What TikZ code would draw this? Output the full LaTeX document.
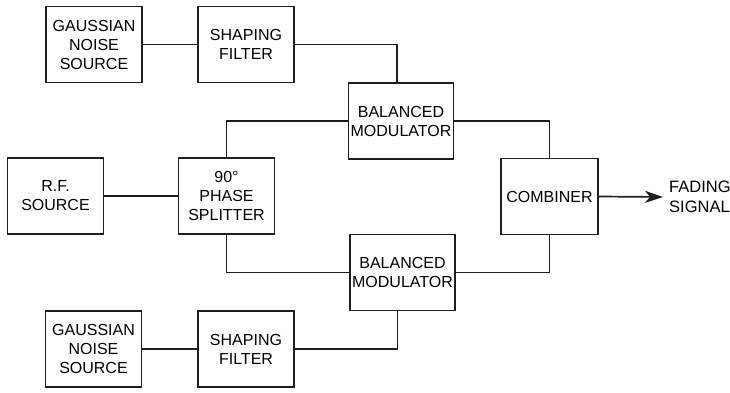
\documentclass[tikz,border=0pt]{standalone}
\usepackage{fontspec}
\setmainfont{Liberation Sans}
\usepackage{tikz}
\usetikzlibrary{arrows.meta,positioning,calc}
\definecolor{mInk}{RGB}{30,30,30}

\begin{document}
\begin{tikzpicture}[x=1pt,y=-1pt,
  blk/.style={draw=mInk,line width=1.7pt,minimum width=96pt,minimum height=76pt,align=center,inner sep=2pt,font=\fontsize{16}{19}\selectfont},
  wire/.style={draw=mInk,line width=1.7pt}]
\useasboundingbox (0,0) rectangle (730,393);
\node[blk] (gtop) at (94,44.5) {GAUSSIAN\\NOISE\\SOURCE};
\node[blk] (stop) at (246,44.5) {SHAPING\\FILTER};
\node[blk,minimum width=103pt] (bmtop) at (401,121) {BALANCED\\MODULATOR};
\node[blk] (rf) at (55.5,196) {R.F.\\SOURCE};
\node[blk] (ps) at (226.5,196) {90°\\PHASE\\SPLITTER};
\node[blk,minimum width=97pt] (comb) at (549.5,196.5) {COMBINER};
\node[blk,minimum width=105pt] (bmbot) at (402.5,272.5) {BALANCED\\MODULATOR};
\node[blk] (gbot) at (93.5,349) {GAUSSIAN\\NOISE\\SOURCE};
\node[blk] (sbot) at (246,349) {SHAPING\\FILTER};
\node[anchor=west,inner sep=0pt,align=left,font=\fontsize{16.5}{20}\selectfont] (out) at (669,197) {FADING\\SIGNAL};
% noise branches
\draw[wire] (gtop)--(stop);
\draw[wire] (stop.east) -| ([xshift=-4pt]bmtop.north);
\draw[wire] (gbot)--(sbot);
\draw[wire] (sbot.east) -| ([xshift=-5pt]bmbot.south);
% carrier
\draw[wire] (rf)--(ps);
\draw[wire] (ps.north) |- (bmtop.west);
\draw[wire] (ps.south) |- (bmbot.west);
% combining
\draw[wire] (bmtop.east) -| (comb.north);
\draw[wire] (bmbot.east) -| (comb.south);
\draw[wire,-{Stealth[length=18pt,width=12pt,inset=5pt]}] (comb.east)--([xshift=-6pt]out.west);
\end{tikzpicture}
\end{document}
